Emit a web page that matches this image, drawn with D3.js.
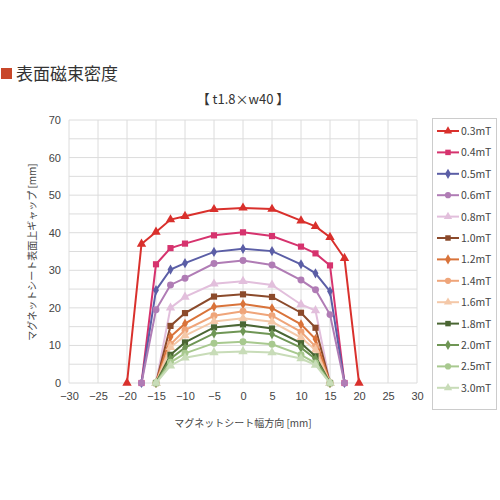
<!DOCTYPE html><html><head><meta charset="utf-8"><script src="https://cdn.jsdelivr.net/npm/d3@7"></script>
<style>body{margin:0;background:#fff;font-family:"Noto Sans CJK JP","Noto Sans",sans-serif}</style></head><body><svg id="c" width="500" height="500"></svg>
<script>
const xTicks=[-30,-25,-20,-15,-10,-5,0,5,10,15,20,25,30];
const yTicks=[0,10,20,30,40,50,60,70];
const xWide=[-20,-17.5,-15,-12.5,-10,-5,0,5,10,12.5,15,17.5,20];
const xMid=[-17.5,-15,-12.5,-10,-5,0,5,10,12.5,15,17.5];
const xNarrow=[-15,-12.5,-10,-5,0,5,10,12.5,15];
const seriesNames=["0.3mT","0.4mT","0.5mT","0.6mT","0.8mT","1.0mT","1.2mT","1.4mT","1.6mT","1.8mT","2.0mT","2.5mT","3.0mT"];
const v03=[0,37.0,40.2,43.5,44.4,46.2,46.6,46.3,43.2,41.7,38.8,33.2,0];
const v04=[0,31.6,35.9,37.1,39.3,40.1,39.1,36.3,34.5,31.3,0];
const v05=[0,24.7,30.2,31.9,34.9,35.7,35.1,31.6,29.2,24.4,0];
const v06=[0,19.5,26.1,27.9,31.8,32.6,31.4,27.4,24.8,18.2,0];
const v08=[0,20.0,22.9,26.4,27.1,26.1,20.9,19.3,0];
const v10=[0,15.2,18.6,23.0,23.6,22.9,18.7,14.7,0];
const v12=[0,12.3,15.8,20.3,21.0,19.9,15.6,11.7,0];
const v14=[0,10.3,14.1,17.9,19.1,17.9,13.6,9.7,0];
const v16=[0,9.5,12.6,16.4,17.2,16.3,12.1,8.8,0];
const v18=[0,7.5,10.8,14.8,15.6,14.5,10.6,7.1,0];
const v20=[0,6.5,9.4,13.2,13.8,13.0,9.4,6.4,0];
const v25=[0,5.5,7.9,10.6,11.0,10.3,7.5,5.3,0];
const v30=[0,4.6,6.7,8.1,8.4,8.1,6.5,4.8,0];
const colors=["#d9302c","#d6336e","#5b5ea6","#b07cb5","#e2bfdc","#8b4a2b","#d9733a","#efa57a","#f4c8a8","#4a6633","#6f9655","#a8c98f","#c8dcb8"];
const shapes=[d3.symbolTriangle,d3.symbolSquare,d3.symbolDiamond,d3.symbolCircle];
const series=[[xWide,v03],[xMid,v04],[xMid,v05],[xMid,v06],[xNarrow,v08],[xNarrow,v10],[xNarrow,v12],[xNarrow,v14],[xNarrow,v16],[xNarrow,v18],[xNarrow,v20],[xNarrow,v25],[xNarrow,v30]];

const svg=d3.select("#c");
svg.append("rect").attr("x",1).attr("y",68).attr("width",11).attr("height",11).attr("fill","#c8472a");
svg.append("text").attr("x",16).attr("y",80).attr("font-size",17).attr("fill","#333").text("表面磁束密度");
svg.append("text").attr("x",243).attr("y",104).attr("text-anchor","middle").attr("font-size",13).attr("fill","#333").text("【 t1.8×w40 】");
const x=d3.scaleLinear().domain([-30,30]).range([69,417]);
const y=d3.scaleLinear().domain([0,70]).range([383,120]);
const g=svg.append("g");
g.selectAll(".gx").data(xTicks).join("line").attr("x1",d=>x(d)).attr("x2",d=>x(d)).attr("y1",120).attr("y2",383).attr("stroke","#dcdcdc");
g.selectAll(".gy").data(d3.range(0,71,5)).join("line").attr("x1",69).attr("x2",417).attr("y1",d=>y(d)).attr("y2",d=>y(d)).attr("stroke","#dcdcdc");
svg.append("g").attr("transform","translate(0,383)").call(d3.axisBottom(x).tickValues(xTicks).tickSize(0).tickPadding(9)).call(a=>a.select(".domain").remove()).selectAll("text").attr("font-size",11).attr("fill","#444");
svg.append("g").attr("transform","translate(69,0)").call(d3.axisLeft(y).tickValues(yTicks).tickSize(0).tickPadding(8)).call(a=>a.select(".domain").remove()).selectAll("text").attr("font-size",11).attr("fill","#444");
svg.append("text").attr("x",243).attr("y",427).attr("text-anchor","middle").attr("font-size",10).attr("fill","#444").text("マグネットシート幅方向 [mm]");
svg.append("text").attr("transform","translate(36,252) rotate(-90)").attr("text-anchor","middle").attr("font-size",10).attr("fill","#444").text("マグネットシート表面上ギャップ [mm]");
const line=d3.line().x(d=>x(d[0])).y(d=>y(d[1]));
series.forEach(([xs,vs],i)=>{
  const pts=xs.map((xv,j)=>[xv,vs[j]]);
  svg.append("path").datum(pts).attr("d",line).attr("fill","none").attr("stroke",colors[i]).attr("stroke-width",2);
  const sym=d3.symbol().type(shapes[i%4]).size(i%4==2?30:38);
  svg.selectAll(null).data(pts).join("path").attr("transform",d=>`translate(${x(d[0])},${y(d[1])})`).attr("d",sym).attr("fill",colors[i]);
});
svg.append("rect").attr("x",432.5).attr("y",118.5).attr("width",64).attr("height",291).attr("fill","#fff").attr("stroke","#ccc");
seriesNames.forEach((n,i)=>{
  const yy=131+i*21.4;
  svg.append("line").attr("x1",437).attr("x2",459).attr("y1",yy).attr("y2",yy).attr("stroke",colors[i]).attr("stroke-width",2);
  svg.append("path").attr("transform",`translate(448,${yy})`).attr("d",d3.symbol().type(shapes[i%4]).size(30)).attr("fill",colors[i]);
  svg.append("text").attr("x",461).attr("y",yy+4).attr("font-size",10.5).attr("fill","#444").text(n);
});
</script></body></html>
